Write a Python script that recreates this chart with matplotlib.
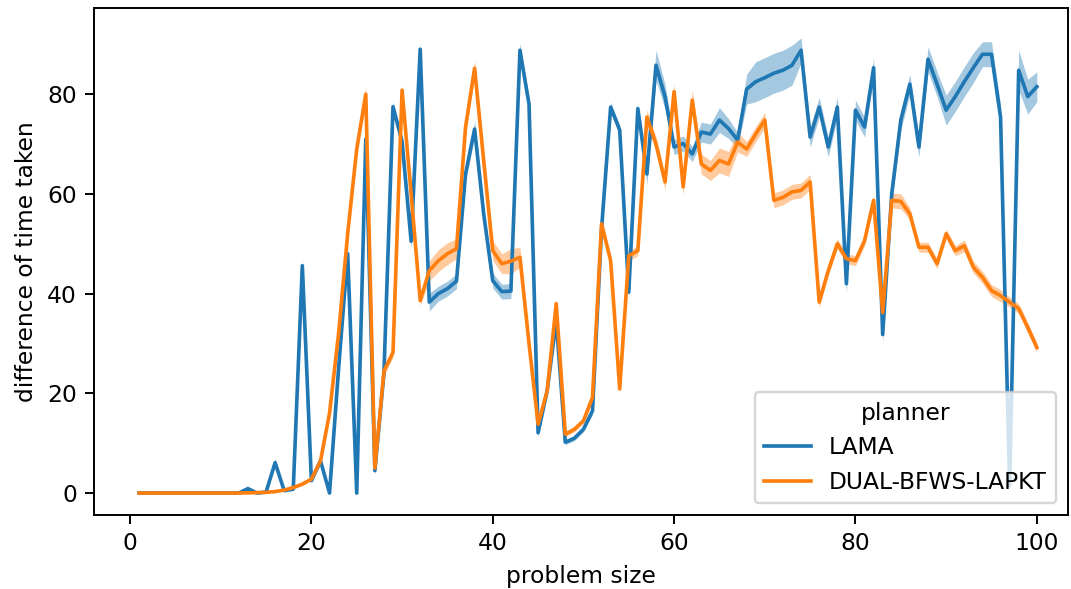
import numpy as np
import matplotlib
matplotlib.use("Agg")
import matplotlib.pyplot as plt

# ---------------- data ----------------
problem_size = list(range(1, 101))

lama_mean = [
    0, 0, 0, 0, 0, 0, 0, 0, 0, 0,
    0, 0, 0.9, 0, 0.2, 6.1, 0.5, 0.8, 45.6, 2.5,
    6.5, 0, 25, 48, 0, 71, 4.5, 24, 77.5, 70.5,
    50.5, 89, 38.3, 40, 41, 42.5, 64, 73, 56, 42.6,
    40.4, 40.5, 88.8, 78, 12.1, 20.5, 34.6, 10.2, 11, 12.8,
    16.5, 53, 77.4, 72.8, 40.3, 77.1, 64, 85.8, 79.5, 69.4,
    70.1, 68, 72.4, 72, 74.8, 73.1, 70.8, 81, 82.5, 83.3,
    84.2, 84.8, 85.8, 88.8, 71.4, 77.4, 69.4, 77.4, 42, 76.8,
    73.4, 85.3, 31.8, 60, 74.8, 82, 69.4, 87, 82, 76.8,
    79.5, 82.5, 85.3, 88, 88, 75.4, 1.5, 84.8, 79.5, 81.5,
]
lama_ci = [
    0, 0, 0, 0, 0, 0, 0, 0, 0, 0,
    0, 0, 0.3, 0, 0.2, 0.8, 0.3, 0.3, 1.5, 0.5,
    0.8, 0, 1.5, 1.5, 0, 1.5, 0.8, 1, 1, 1,
    1.5, 1.5, 1.8, 1.5, 1.5, 1.5, 1.5, 1.5, 1.5, 1.5,
    1.5, 1.5, 1.5, 1, 0.8, 0.8, 0.8, 0.5, 0.5, 0.5,
    0.8, 1, 1, 1, 1, 1, 2, 3, 2.5, 1.5,
    1.5, 1.5, 2, 2, 2.5, 2, 1.5, 3, 4, 4,
    4, 4, 4, 2.5, 2, 2, 2, 2, 2, 2,
    2, 2, 1.5, 2, 2, 2, 2, 2.5, 2.5, 3,
    3, 3, 3, 2.5, 2.5, 2.5, 1.5, 4, 3.5, 3,
]

dual_mean = [
    0, 0, 0, 0, 0, 0, 0, 0, 0, 0,
    0, 0, 0.05, 0.1, 0.15, 0.3, 0.6, 1.1, 1.8, 2.8,
    6.4, 16, 32, 52, 69, 80, 5, 24.5, 28.2, 80.8,
    60, 38.6, 44.6, 46.6, 48, 49, 73.4, 85.2, 66.7, 48.6,
    46, 46.5, 47.3, 30, 13.8, 20.5, 38, 11.8, 12.8, 14.5,
    19.2, 54, 46.6, 20.9, 47.6, 48.6, 75.4, 70, 62.4, 80.5,
    61.4, 78.8, 66, 64.7, 66.7, 66, 70.4, 69, 72, 74.8,
    58.7, 59.3, 60.4, 60.7, 62.4, 38.3, 44.6, 50, 47, 46.6,
    50.6, 58.7, 36.2, 58.7, 58.5, 56, 49.3, 49.3, 46, 52,
    48.6, 49.6, 45.3, 43.3, 40.6, 39.6, 38.3, 37, 33.2, 29.2,
]
dual_ci = [
    0, 0, 0, 0, 0, 0, 0, 0, 0, 0,
    0, 0, 0.05, 0.05, 0.1, 0.1, 0.2, 0.2, 0.3, 0.3,
    0.5, 0.8, 1, 1.2, 1.2, 1.5, 0.8, 1, 1, 1.2,
    1, 1, 2, 2.2, 2.2, 2, 1.5, 1.5, 1.5, 2,
    2, 2.5, 2, 1, 0.8, 0.8, 0.8, 0.5, 0.5, 0.5,
    0.8, 1.2, 1, 1, 1, 1, 1.5, 1.5, 1.5, 1.5,
    1.5, 2, 2, 2, 2.5, 2.5, 2, 1.5, 1.5, 1.5,
    1.5, 1.5, 1.5, 1.5, 1.5, 1, 1, 1, 1, 1,
    1, 1, 1.5, 1.5, 1.5, 1.2, 1, 1, 1, 1,
    1, 1.2, 1.2, 1.2, 1.2, 1.2, 1, 1, 1, 1,
]

planners = ["LAMA", "DUAL-BFWS-LAPKT"]
colors = ["#1f77b4", "#ff7f0e"]

# ---------------- plot ----------------
plt.rcParams["font.family"] = ["DejaVu Sans"]
plt.rcParams["font.size"] = 9.6

fig = plt.figure(figsize=(1071 / 175, 589 / 175), dpi=175)
ax = fig.add_axes([0.0878, 0.1256, 0.9095, 0.861])

x = np.array(problem_size)
for name, mean, ci, col in zip(planners,
                               [lama_mean, dual_mean],
                               [lama_ci, dual_ci],
                               colors):
    m = np.array(mean)
    c = np.array(ci)
    ax.plot(x, m, color=col, lw=1.5, label=name)
    ax.fill_between(x, m - c, m + c, color=col, alpha=0.4, lw=0)

ax.set_xlim(-3.97, 103.45)
ax.set_ylim(-4.4, 97.3)
ax.set_xticks([0, 20, 40, 60, 80, 100])
ax.set_yticks([0, 20, 40, 60, 80])
ax.set_xlabel("problem size")
ax.set_ylabel("difference of time taken")
ax.legend(title="planner", loc="lower right")

fig.savefig("out.png", dpi=175)
